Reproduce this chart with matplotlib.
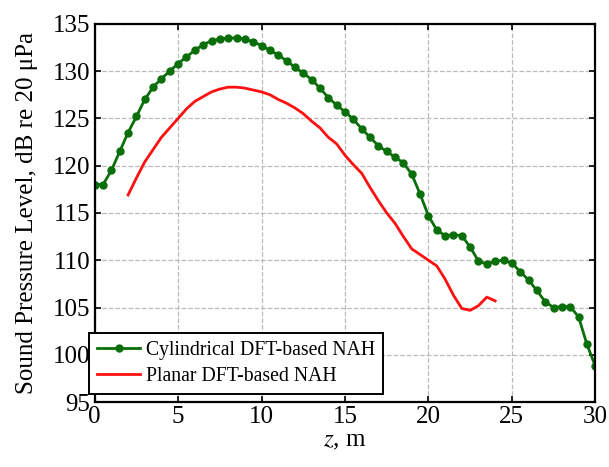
import numpy as np
import matplotlib
matplotlib.use("Agg")
import matplotlib.pyplot as plt

# cylindrical DFT-based NAH, every 0.5 m from 0 to 30 m
cyl_z = np.arange(0, 30.01, 0.5)
cyl_spl = [118.0, 118.0, 119.5, 121.5, 123.5, 125.2, 127.0, 128.3, 129.2, 130.0,
           130.8, 131.5, 132.2, 132.8, 133.2, 133.4, 133.5, 133.5, 133.4, 133.1,
           132.7, 132.2, 131.7, 131.1, 130.4, 129.8, 129.1, 128.2, 127.2, 126.4,
           125.7, 124.9, 123.9, 123.0, 122.1, 121.5, 120.9, 120.3, 119.1, 117.0,
           114.7, 113.2, 112.6, 112.7, 112.6, 111.4, 109.9, 109.6, 109.9, 110.0,
           109.7, 108.8, 107.9, 106.8, 105.6, 105.0, 105.1, 105.1, 104.0, 101.1,
           98.8]

# planar DFT-based NAH, 2 m to 24 m
pla_z = np.arange(2, 24.01, 0.5)
pla_spl = [116.9, 118.7, 120.4, 121.7, 123.0, 124.0, 125.0, 126.0, 126.8, 127.3,
           127.8, 128.1, 128.3, 128.3, 128.2, 128.0, 127.8, 127.5, 127.0, 126.6,
           126.1, 125.5, 124.7, 124.0, 123.0, 122.3, 121.1, 120.1, 119.2, 117.7,
           116.3, 115.0, 113.9, 112.5, 111.2, 110.6, 110.0, 109.4, 108.0, 106.3,
           104.9, 104.7, 105.2, 106.1, 105.7]

plt.rcParams['font.family'] = ['Liberation Serif', 'DejaVu Serif']
plt.rcParams['mathtext.fontset'] = 'stix'

fig = plt.figure(figsize=(6.09, 4.67), dpi=100)
ax = fig.add_axes([0.1555, 0.139, 0.822, 0.81])

ax.plot(cyl_z, cyl_spl, '-o', color='#0a6e0a', lw=2, ms=5,
        label='Cylindrical DFT-based NAH')
ax.plot(pla_z, pla_spl, '-', color='#ff1010', lw=2,
        label='Planar DFT-based NAH')

ax.set_xlim(0, 30)
ax.set_ylim(95, 135)
ax.set_xticks(np.arange(0, 31, 5))
ax.set_yticks(np.arange(95, 136, 5))
ax.grid(True, ls='--', color='#bbbbbb', lw=0.9)
ax.tick_params(direction='in', top=True, right=True, labelsize=18, length=4,
               width=1.2, pad=3)
for s in ax.spines.values():
    s.set_linewidth(1.6)

ax.set_xlabel('$z$, m', fontsize=18, labelpad=1)
ax.set_ylabel('Sound Pressure Level, dB re 20 μPa', fontsize=18, labelpad=11)

leg = ax.legend(loc='lower left', fontsize=14.2, fancybox=False, framealpha=1,
                edgecolor='black', borderpad=0.4, labelspacing=0.35,
                handlelength=2.2, handletextpad=0.3,
                bbox_to_anchor=(-0.031, -0.004))
leg.get_frame().set_linewidth(1.4)

fig.savefig('out.png', dpi=100)
